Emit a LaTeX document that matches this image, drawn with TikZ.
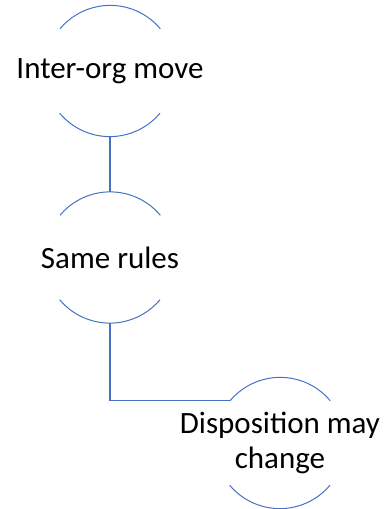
\documentclass[tikz,border=0pt]{standalone}
\usepackage{fontspec}
\setmainfont{Carlito}
\definecolor{arcblue}{HTML}{4472C4}
\begin{document}
\begin{tikzpicture}[x=1pt,y=1pt,
  ring/.style={circle,draw=none,minimum size=131pt,inner sep=0pt},
  ringtext/.style={font=\fontsize{31}{35}\selectfont,align=center,text=black},
  arcline/.style={draw=arcblue,line width=1pt},
  link/.style={draw=arcblue,line width=1.4pt}]
\useasboundingbox (0,0) rectangle (388,509);
\node[ring,label={[ringtext]center:Inter-org move}] (c1) at (110,438) {};
\node[ring,label={[ringtext]center:Same rules}] (c2) at (110,251.5) {};
\node[ring,label={[ringtext]center:Disposition may\\change}] (c3) at (280,66) {};
\foreach \c in {c1,c2,c3}{
  \draw[arcline] (\c.40) arc[start angle=40,end angle=140,radius=65.5pt];
  \draw[arcline] (\c.220) arc[start angle=220,end angle=320,radius=65.5pt];
}
\draw[link] (c1.south) -- (c2.north);
\draw[link] (c2.south) |- (c3.140);
\end{tikzpicture}
\end{document}
